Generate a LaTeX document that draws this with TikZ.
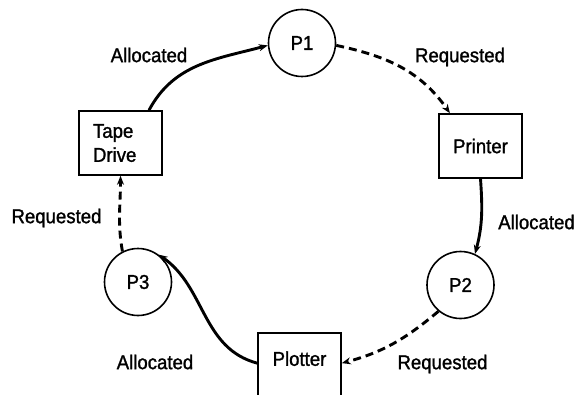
\documentclass[tikz,border=0pt]{standalone}
\usepackage{fontspec}
\setmainfont{Liberation Sans}[FakeStretch=0.93, FakeBold=1.3]
\usetikzlibrary{arrows.meta}

\begin{document}
\begin{tikzpicture}[x=1pt, y=1pt,
    every node/.style={font=\fontsize{20}{24}\selectfont},
    proc/.style={draw, circle, line width=1.6pt, minimum size=67pt, inner sep=0pt},
    res/.style={draw, rectangle, line width=1.6pt, minimum width=83pt, minimum height=64pt},
    alloc/.style={line width=2.9pt, -{Stealth[length=9pt,width=7pt]}},
    req/.style={alloc, dash pattern=on 8pt off 5pt}]
  \useasboundingbox (0,0) rectangle (577,394);
  % processes
  \node[proc] (p1) at (302,351) {P1};
  \node[proc] (p2) at (460.5,109) {P2};
  \node[proc] (p3) at (138,112) {P3};
  % resources
  \node[res] (printer) at (480.5,248) {Printer};
  \node[res, text width=55pt, align=left] (tape) at (120.5,251) {Tape\\Drive};
  \node[draw, line width=1.6pt, minimum width=83pt, inner sep=0pt,
        text height=33pt, text depth=40pt, anchor=north] (plotter) at (299.5,62) {Plotter};
  % edges
  \draw[alloc] (tape.49) to[out=62, in=195] (p1.184);
  \draw[req] (p1.356) to[out=-12, in=125] (printer.133);
  \draw[alloc] (printer.south) to[out=-86, in=75] (p2.65);
  \draw[req] (p2.230) to[out=220, in=15] (plotter.mid east);
  \draw[alloc] (plotter.mid west) to[out=165, in=-35] (p3.53);
  \draw[req] (p3.117) to[out=100, in=-90] (tape.south);
  % labels
  \node (alloc1) at (149,339) {Allocated};
  \node (req1) at (460,337) {Requested};
  \node (alloc2) at (536.5,172) {Allocated};
  \node (req2) at (442.5,30) {Requested};
  \node (alloc3) at (155,32) {Allocated};
  \node (req3) at (56.5,176) {Requested};
\end{tikzpicture}
\end{document}
